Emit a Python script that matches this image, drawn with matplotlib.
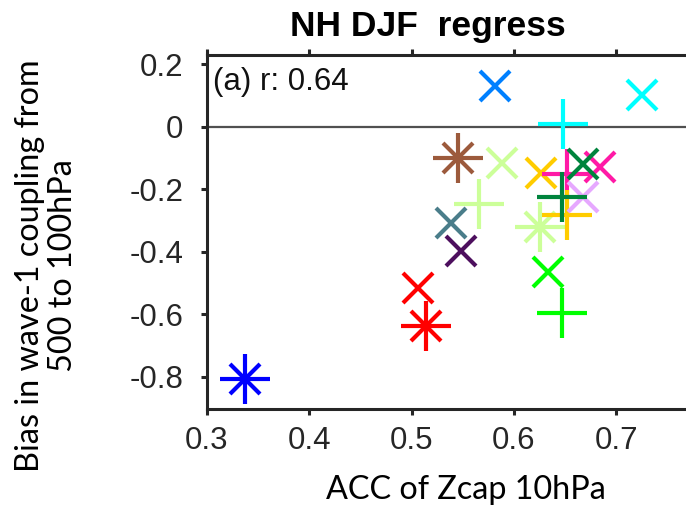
# NH DJF regress scatter: ACC of Zcap vs wave-1 coupling bias

import matplotlib
matplotlib.use('Agg')
import matplotlib.pyplot as plt

# model values, in drawing order
acc = [0.337, 0.506, 0.514, 0.539, 0.548, 0.633, 0.647, 0.626, 0.582, 0.725,
       0.648, 0.545, 0.588, 0.566, 0.627, 0.652, 0.652, 0.668, 0.647, 0.684, 0.668]
bias = [-0.806, -0.516, -0.637, -0.307, -0.396, -0.463, -0.595, -0.32, 0.131, 0.102,
        0.01, -0.10, -0.115, -0.245, -0.148, -0.15, -0.282, -0.224, -0.224, -0.128, -0.118]
markers = ['*', 'x', '*', 'x', 'x', 'x', '+', '*', 'x', 'x',
           '+', '*', 'x', '+', 'x', '+', '+', 'x', '+', 'x', 'x']
colors = ['#0000ff', '#ff0000', '#ff0000', '#4a7d8a', '#4d0f5e', '#00ff00', '#00ff00',
          '#ccff99', '#0080ff', '#00ffff', '#00ffff', '#9c5a3c', '#ccff99', '#ccff99',
          '#ffcc00', '#ff1aa6', '#ffcc00', '#e6a8ff', '#00843d', '#ff1aa6', '#00843d']

xticks = [0.3, 0.4, 0.5, 0.6, 0.7]
yticks = [-0.8, -0.6, -0.4, -0.2, 0, 0.2]
ytick_labels = ['-0.8', '-0.6', '-0.4', '-0.2', '0', '0.2']
r_value = 0.64

fig = plt.figure(figsize=(6.86, 5.09), dpi=100)
ax = fig.add_axes([0.3017, 0.1965, 0.7456, 0.6955])

plus_ms = 36
x_ms = 21.6
mew = 3

for xv, yv, m, c in zip(acc, bias, markers, colors):
    if m in ('+', '*'):
        ax.plot(xv, yv, '+', color=c, ms=plus_ms, mew=mew)
    if m in ('x', '*'):
        ax.plot(xv, yv, 'x', color=c, ms=x_ms, mew=mew)

ax.axhline(0, color='#505050', lw=1.6, zorder=0)

ax.set_xlim(0.3, 0.8)
ax.set_ylim(-0.9024, 0.2304)
ax.set_xticks(xticks)
ax.set_xticklabels([f'{t:.1f}' for t in xticks])
ax.set_yticks(yticks)
ax.set_yticklabels(ytick_labels)

tick_font = 'Liberation Sans'
for lab in ax.get_xticklabels() + ax.get_yticklabels():
    lab.set_fontfamily(tick_font)
    lab.set_fontsize(22.5)
    lab.set_color('#262626')

ax.tick_params(axis='both', direction='out', length=4, width=2.2, color='#262626',
               top=True, right=True)
ax.tick_params(axis='x', pad=8)
ax.tick_params(axis='y', pad=13)
for s in ax.spines.values():
    s.set_linewidth(2.2)
    s.set_color('#262626')

ax.text(0.012, 0.965, f'(a) r: {r_value:.2f}', transform=ax.transAxes, ha='left', va='top',
        fontsize=22.5, family=tick_font, color='#111111')

fig.text(0.623, 0.93, 'NH DJF  regress', ha='center', va='baseline',
         fontsize=25.5, fontweight='bold', family=tick_font)

label_font = 'Lato'
fig.text(0.679, 0.02, 'ACC of Zcap 10hPa', ha='center', va='baseline',
         fontsize=23.3, family=label_font)
fig.text(0.068, 0.479, 'Bias in wave-1 coupling from\n500 to 100hPa', ha='center', va='center',
         rotation=90, fontsize=23.3, family=label_font, linespacing=1.15)

fig.savefig('out.png', dpi=100)
